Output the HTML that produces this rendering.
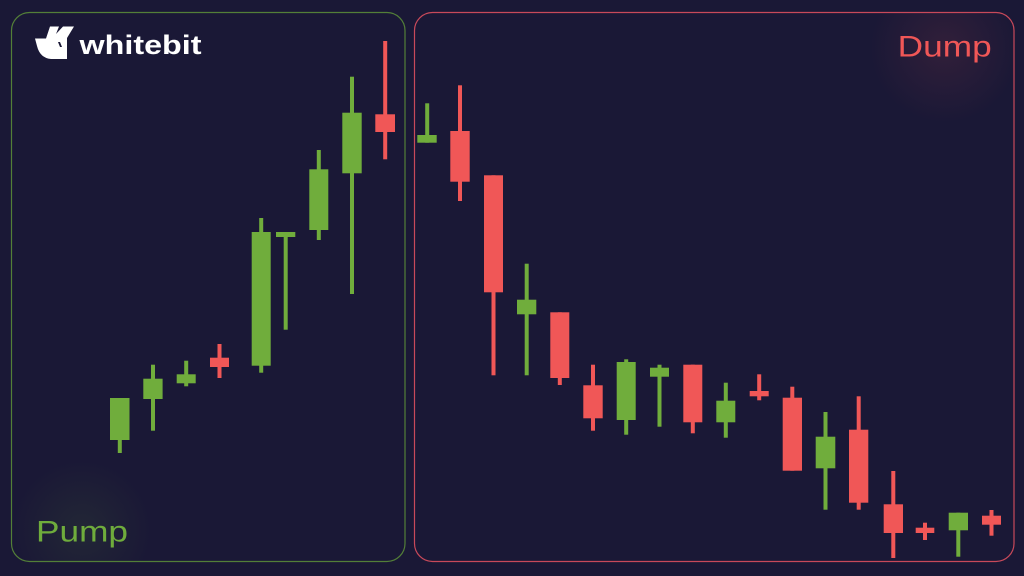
<!DOCTYPE html>
<html><head><meta charset="utf-8"><style>
html,body{margin:0;padding:0;background:#1a1836;}
svg{display:block;}
</style></head><body>
<svg width="1024" height="576" viewBox="0 0 1024 576" xmlns="http://www.w3.org/2000/svg">
<defs>
<radialGradient id="gg" cx="82" cy="530" r="70" gradientUnits="userSpaceOnUse">
<stop offset="0" stop-color="#6fac3c" stop-opacity="0.10"/>
<stop offset="1" stop-color="#6fac3c" stop-opacity="0"/>
</radialGradient>
<radialGradient id="rg" cx="945" cy="48" r="75" gradientUnits="userSpaceOnUse">
<stop offset="0" stop-color="#f05757" stop-opacity="0.11"/>
<stop offset="1" stop-color="#f05757" stop-opacity="0"/>
</radialGradient>
</defs>
<rect width="1024" height="576" fill="#1a1836"/>
<rect x="12" y="440" width="170" height="121" fill="url(#gg)"/>
<rect x="850" y="13" width="164" height="115" fill="url(#rg)"/>
<rect x="11.5" y="12.5" width="393.5" height="549" rx="18" ry="18" fill="none" stroke="#537f38" stroke-width="1.2"/>
<rect x="414.5" y="12.5" width="599.5" height="549" rx="18" ry="18" fill="none" stroke="#c8495a" stroke-width="1.2"/>

<!-- logo -->
<path d="M35,38.5 L46,38.5 L50,26.5 L59,26.5 L56,34 L63,26.5 L74,26.5 L67,38 L67,59 L51,59 Q40,58 37,46 Z" fill="#ffffff"/>
<path d="M58,42 L60,42 L62,47 L60,47 Z" fill="#1a1836"/>
<text x="79.5" y="54" font-family="Liberation Sans, sans-serif" font-weight="bold" font-size="27" fill="#ffffff" textLength="122" lengthAdjust="spacingAndGlyphs">whitebit</text>

<text x="36" y="541.7" font-family="Liberation Sans, sans-serif" font-size="30" fill="#6fac3c" textLength="92" lengthAdjust="spacingAndGlyphs">Pump</text>
<text x="897.7" y="56.7" font-family="Liberation Sans, sans-serif" font-size="30" fill="#f05757" textLength="94" lengthAdjust="spacingAndGlyphs">Dump</text>

<g fill="#70ad3c">
<rect x="117.8" y="398" width="4" height="55"/><rect x="110" y="398" width="19.5" height="42"/>
<rect x="151" y="364.7" width="4" height="66"/><rect x="143.3" y="378.7" width="19.3" height="20.3"/>
<rect x="184.2" y="360.7" width="4" height="25.6"/><rect x="176.7" y="374.3" width="19" height="9"/>
<rect x="259.2" y="218" width="4" height="154.7"/><rect x="251.7" y="232" width="19" height="133.7"/>
<rect x="283.7" y="232" width="4" height="97.7"/><rect x="276" y="232" width="19.3" height="5"/>
<rect x="316.8" y="150" width="4" height="90"/><rect x="309.3" y="169.3" width="19" height="60.7"/>
<rect x="350" y="76.7" width="4" height="217.3"/><rect x="342.3" y="112.7" width="19.4" height="60.6"/>
<rect x="425.2" y="103.3" width="4" height="39.4"/><rect x="417.3" y="135" width="19.4" height="7.7"/>
<rect x="524.7" y="263.7" width="4" height="111.6"/><rect x="517" y="299.7" width="19.3" height="14.6"/>
<rect x="624.2" y="359.3" width="4" height="75.4"/><rect x="616.7" y="362" width="19" height="58"/>
<rect x="657.5" y="364.7" width="4" height="62"/><rect x="650" y="367.7" width="19" height="9"/>
<rect x="723.8" y="382.7" width="4" height="55"/><rect x="716.3" y="400.7" width="19" height="21.6"/>
<rect x="823.5" y="412" width="4" height="97.7"/><rect x="815.7" y="436.7" width="19.6" height="31.6"/>
<rect x="956.3" y="512.7" width="4" height="44"/><rect x="948.7" y="512.7" width="19.3" height="17.6"/>
</g>

<g fill="#f05757">
<rect x="217.5" y="344" width="4" height="34"/><rect x="210" y="357.7" width="19" height="9.3"/>
<rect x="383.2" y="41" width="4" height="118.3"/><rect x="375.3" y="114.3" width="19.7" height="17.7"/>
<rect x="458" y="85.3" width="4" height="115.7"/><rect x="450.3" y="131" width="19.4" height="50.7"/>
<rect x="491.5" y="175.3" width="4" height="200"/><rect x="484" y="175.3" width="19" height="117"/>
<rect x="557.8" y="312.3" width="4" height="72.7"/><rect x="550.3" y="312.3" width="19" height="65.7"/>
<rect x="591" y="364.7" width="4" height="66"/><rect x="583.3" y="385.3" width="19.4" height="33"/>
<rect x="690.8" y="364.7" width="4" height="68.6"/><rect x="683.3" y="364.7" width="19" height="57.6"/>
<rect x="757.2" y="374.3" width="4" height="26"/><rect x="749.7" y="391" width="19" height="5.3"/>
<rect x="790.3" y="386.7" width="4" height="84"/><rect x="782.7" y="397.7" width="19.3" height="73"/>
<rect x="856.7" y="396.3" width="4" height="113.4"/><rect x="849" y="429.7" width="19.3" height="73"/>
<rect x="891.3" y="471" width="4" height="87"/><rect x="883.7" y="504.3" width="19.3" height="28.7"/>
<rect x="923" y="522.7" width="4" height="17.3"/><rect x="915.7" y="527.7" width="18.6" height="5.3"/>
<rect x="989.5" y="510" width="4" height="25.7"/><rect x="982" y="515.7" width="19" height="9"/>
</g>
</svg>
</body></html>
